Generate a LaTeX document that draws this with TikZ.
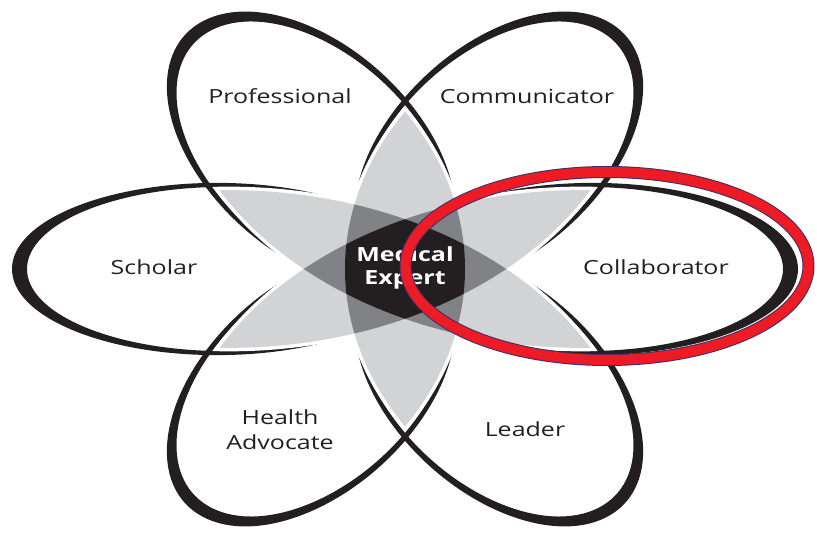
\documentclass[tikz,border=0pt]{standalone}
\usepackage{fontspec}
\setmainfont{Open Sans}
\usepackage{graphicx}
\definecolor{ink}{HTML}{231F20}
\definecolor{petalGrey}{HTML}{D1D3D4}
\definecolor{overlapGrey}{HTML}{808285}
\definecolor{ringRed}{HTML}{ED1C24}
\definecolor{ringEdge}{HTML}{3D2B6B}
\newcommand{\squash}[1]{\scalebox{1}[0.78]{#1}}
\newcommand{\lens}{(0,-214) arc[start angle=-31.33, end angle=31.33, radius=411.63] arc[start angle=148.67, end angle=211.33, radius=411.63] -- cycle}
\tikzset{
  role/.style={text=ink, font=\fontsize{25}{25}\selectfont, inner sep=0pt},
  core/.style={role, text=white, font=\fontsize{25}{23}\selectfont\bfseries, align=center}
}

\begin{document}
\begin{tikzpicture}[x=1pt,y=1pt]
\useasboundingbox (-405,-265) rectangle (412,269);
\begin{scope}[yscale=0.736]
% petals: outer ellipse minus a shifted inner one
\foreach \a in {0,60,...,300}
  \fill[ink, even odd rule, rotate=\a] (188,0) ellipse [x radius=205, y radius=117] (181.5,0) ellipse [x radius=196.5, y radius=111.5];
\foreach \a in {0,60,-60}
  \draw[white, line width=7pt, rotate=\a] \lens;
\foreach \a in {0,60,-60}
  \fill[petalGrey, rotate=\a] \lens;
\foreach \a/\b in {0/60, 0/-60, 60/-60} {
  \begin{scope}
    \clip[rotate=\a] \lens;
    \fill[overlapGrey, rotate=\b] \lens;
  \end{scope}
}
\begin{scope}
  \clip \lens;
  \clip[rotate=60] \lens;
  \fill[ink, rotate=-60] \lens;
\end{scope}
\end{scope}

\node[role, anchor=base] (professional) at (-125,165) {\squash{Professional}};
\node[role, anchor=base] (communicator) at (122,165) {\squash{Communicator}};
\node[role, anchor=base] (scholar) at (-251,-6) {\squash{Scholar}};
\node[role, anchor=base] (collaborator) at (251,-6) {\squash{Collaborator}};
\node[role, align=center] (health) at (-125,-160.5) {\squash{Health}\\\squash{Advocate}};
\node[role, anchor=base] (leader) at (120,-168) {\squash{Leader}};
\node[core] (expert) at (0,1.5) {\squash{Medical}\\\squash{Expert}};

\draw[ringEdge, line width=12pt] (202,3) ellipse [x radius=201.5, y radius=94];
\draw[ringRed, line width=10pt] (202,3) ellipse [x radius=201.5, y radius=94];
\end{tikzpicture}
\end{document}
